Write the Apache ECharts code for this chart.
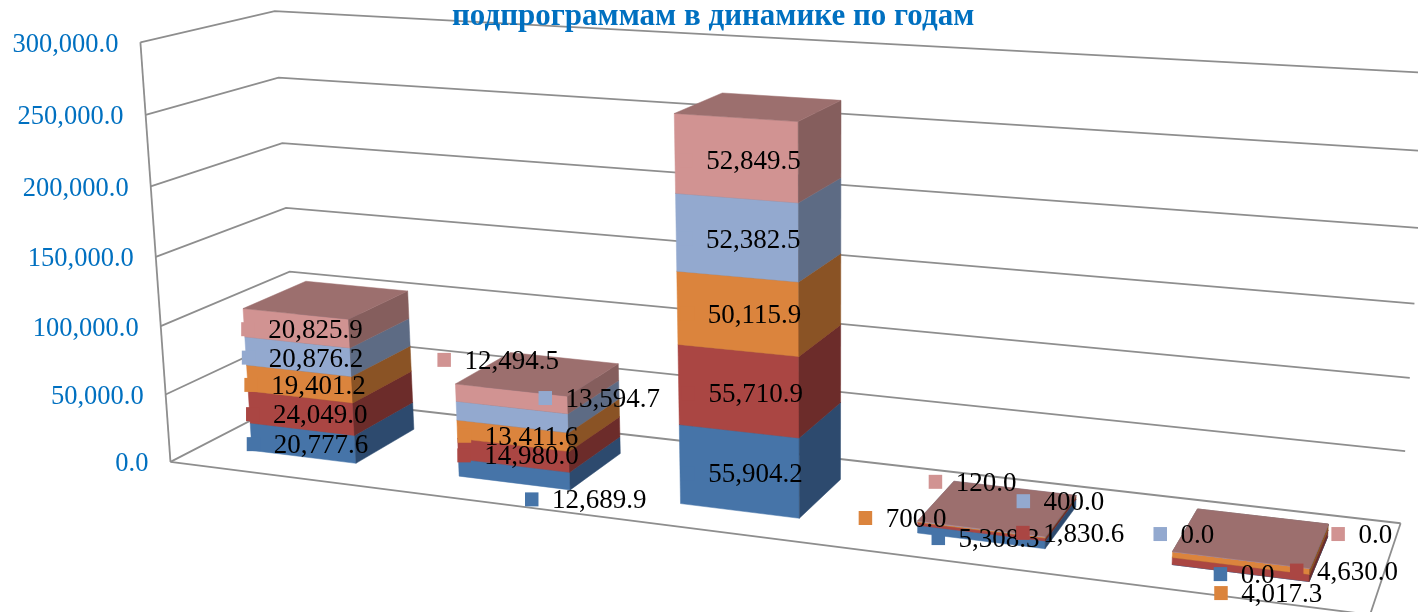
<!DOCTYPE html>
<html>
<head>
<meta charset="utf-8">
<style>html,body{margin:0;background:#fff}#c{width:1418px;height:612px}</style>
<script src="https://cdn.jsdelivr.net/npm/echarts@6/dist/echarts.min.js"></script>
</head>
<body>
<div id="c"></div>
<script>
const yTicks = [0, 50000, 100000, 150000, 200000, 250000, 300000]
const seriesBlue = [20777.6, 12689.9, 55904.2, 5308.3, 0]
const seriesRed = [24049.0, 14980.0, 55710.9, 1830.6, 4630.0]
const seriesOrange = [19401.2, 13411.6, 50115.9, 700.0, 4017.3]
const seriesLightBlue = [20876.2, 13594.7, 52382.5, 400.0, 0]
const seriesPink = [20825.9, 12494.5, 52849.5, 120.0, 0]
const stacks = [seriesBlue, seriesRed, seriesOrange, seriesLightBlue, seriesPink]

const TITLE = 'подпрограммам в динамике по годам'
const SERIF = '"Liberation Serif"'
const colors = [
  { front: '#4674A8', side: '#2D4A6E', top: '#3A5F8A' },
  { front: '#AA4643', side: '#6C2C2A', top: '#8A3A38' },
  { front: '#DB843D', side: '#8A5325', top: '#B06A30' },
  { front: '#93A9CF', side: '#5D6B84', top: '#7788A6' },
  { front: '#D19392', side: '#855E5D', top: '#9C6F6E' },
]

// hand placed data labels, shift from the middle of the segment's front face
const labelDx = [
  [-57, 10, -59, -50.5, -27.6],
  [-56, -57, -58, 34, 48.5],
  [-56, -56, -58, -123.5, -27.5],
  [-57, 25.5, -59, 34.4, -88.4],
  [-56, -75, -58, -53.5, 89.5],
]
const labelDy = [
  [1, 25, 2, 1, 1],
  [1, 0, 2, 1, 1],
  [1, 0, 0, -12, 30],
  [1, -19, 1, -28, -26],
  [1, -39, 2, -47, -26],
]

// frame corners of the 3d box on screen: [x, y, z] unit cube -> [sx, sy]
const FRAME = [
  [[0, 0, 0], [170.3, 461.7]],
  [[0, 1, 0], [140.6, 42.3]],
  [[0, 0, 1], [297, 397]],
  [[0, 1, 1], [274.5, 11]],
  [[1, 0, 1], [1400.6, 523]],
  [[1, 0, 0], [1370, 615]],
  [[1, 1, 1], [1429, 73]],
]

function solveCamera(pairs) {
  const rows = [], rhs = []
  pairs.forEach(([[x, y, z], [u, v]]) => {
    rows.push([x, y, z, 1, 0, 0, 0, 0, -u * x, -u * y, -u * z]); rhs.push(u)
    rows.push([0, 0, 0, 0, x, y, z, 1, -v * x, -v * y, -v * z]); rhs.push(v)
  })
  const n = 11
  const m = Array.from({ length: n }, (_, i) => {
    const row = Array.from({ length: n }, (_, j) => rows.reduce((s, r) => s + r[i] * r[j], 0))
    row.push(rows.reduce((s, r, k) => s + r[i] * rhs[k], 0))
    return row
  })
  for (let i = 0; i < n; i++) {
    let p = i
    for (let k = i + 1; k < n; k++) if (Math.abs(m[k][i]) > Math.abs(m[p][i])) p = k
    ;[m[i], m[p]] = [m[p], m[i]]
    for (let k = 0; k < n; k++) {
      if (k === i) continue
      const f = m[k][i] / m[i][i]
      for (let j = i; j <= n; j++) m[k][j] -= f * m[i][j]
    }
  }
  return m.map((row, i) => row[n] / row[i])
}
const cam = solveCamera(FRAME)

const chart = echarts.init(document.getElementById('c'), null, { renderer: 'canvas' })
const W = chart.getWidth(), H = chart.getHeight()

// axis scales give the position, the camera bends it into the 3d view
function pt(api, cat, value, z) {
  const c = api.coord([cat, value])
  const x = c[0] / W, y = 1 - c[1] / H
  const w = cam[8] * x + cam[9] * y + cam[10] * z + 1
  return [
    (cam[0] * x + cam[1] * y + cam[2] * z + cam[3]) / w,
    (cam[4] * x + cam[5] * y + cam[6] * z + cam[7]) / w,
  ]
}
const line = points => ({
  type: 'polyline', shape: { points },
  style: { fill: null, stroke: '#8E8E8E', lineWidth: 1.8 },
})
const fmt = v => v.toLocaleString('en-US', { minimumFractionDigits: 1 })

function renderGrid(params, api) {
  const v = api.value(0)
  const a = pt(api, 0, v, 0)
  return {
    type: 'group',
    children: [
      line([a, pt(api, 0, v, 1), pt(api, 5, v, 1)]),
      {
        type: 'text',
        style: {
          text: fmt(v), x: a[0] - 22, y: a[1] + 2.5, textAlign: 'right', textVerticalAlign: 'middle',
          fill: '#0070C0', font: '26.5px ' + SERIF,
        },
      },
    ],
  }
}

function renderFrame(params, api) {
  return {
    type: 'group',
    children: [
      line([pt(api, 0, 0, 0), pt(api, 0, 300000, 0)]),
      line([pt(api, 0, 0, 0), pt(api, 5, 0, 0), pt(api, 5, 0, 1)]),
    ],
  }
}

function segmentRenderer(s) {
  return (params, api) => {
    const cat = api.value(0), base = api.value(1), top = base + api.value(2)
    const x0 = cat + 0.24, x1 = cat + 0.75, z0 = 0.25, z1 = 0.75
    const face = (points, fill) => ({
      type: 'polygon', shape: { points }, style: { fill, stroke: fill, lineWidth: 0.5 },
    })
    return {
      type: 'group',
      children: [
        face([pt(api, x0, base, z0), pt(api, x1, base, z0), pt(api, x1, top, z0), pt(api, x0, top, z0)], colors[s].front),
        face([pt(api, x1, base, z0), pt(api, x1, base, z1), pt(api, x1, top, z1), pt(api, x1, top, z0)], colors[s].side),
        face([pt(api, x0, top, z0), pt(api, x1, top, z0), pt(api, x1, top, z1), pt(api, x0, top, z1)], colors[s].top),
      ],
    }
  }
}

function renderLabel(params, api) {
  const cat = api.value(0), s = api.value(1), base = api.value(2), v = api.value(3)
  const a = pt(api, cat + 0.5, base + v / 2, 0.25)
  const x = a[0] + labelDx[s][cat], y = a[1] + labelDy[s][cat]
  return {
    type: 'group',
    children: [
      { type: 'rect', shape: { x, y: y - 7, width: 13.5, height: 14 }, style: { fill: colors[s].front } },
      {
        type: 'text',
        style: {
          text: fmt(v), x: x + 27, y: y + 2, textVerticalAlign: 'middle', fill: '#000', font: '27px ' + SERIF,
        },
      },
    ],
  }
}

const baseOf = (s, cat) => stacks.slice(0, s).reduce((sum, prev) => sum + prev[cat], 0)
const segmentSeries = stacks.map((values, s) => ({
  type: 'custom',
  renderItem: segmentRenderer(s),
  silent: true,
  data: values.map((v, cat) => [cat, baseOf(s, cat), v]),
}))
const labelData = []
stacks.forEach((values, s) => values.forEach((v, cat) => {
  labelData.push([cat, s, baseOf(s, cat), v])
}))

chart.setOption({
  animation: false,
  backgroundColor: '#fff',
  title: {
    text: TITLE, left: 447, top: -4, z: 20,
    textStyle: { color: '#0070C0', fontFamily: SERIF, fontWeight: 'bold', fontSize: 31 },
  },
  grid: { left: 0, right: 0, top: 0, bottom: 0 },
  xAxis: { type: 'value', min: 0, max: 5, show: false },
  yAxis: { type: 'value', min: 0, max: 300000, show: false },
  series: [
    { type: 'custom', renderItem: renderGrid, silent: true, data: yTicks.map(v => [v]) },
    { type: 'custom', renderItem: renderFrame, silent: true, data: [[0]] },
    ...segmentSeries,
    { type: 'custom', renderItem: renderLabel, silent: true, data: labelData },
  ],
})
</script>
</body>
</html>
